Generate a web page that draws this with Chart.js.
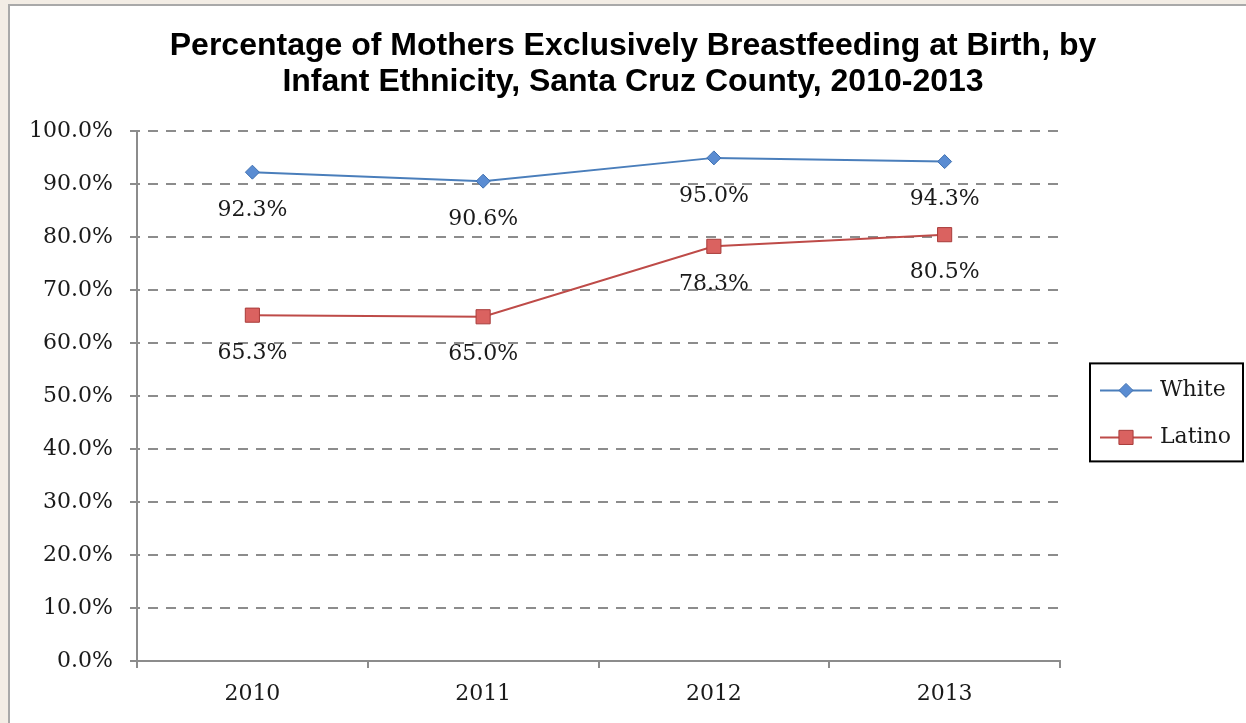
<!DOCTYPE html>
<html lang="en">
<head>
    <meta charset="UTF-8">
    <title>Exclusive Breastfeeding at Birth</title>
    <script src="https://cdn.jsdelivr.net/npm/chart.js"></script>
    <style>
        body { margin: 0; background: #f3ede5; width: 1246px; height: 723px; overflow: hidden; position: relative; }
        #frame { position: absolute; left: 8px; top: 4px; width: 1260px; height: 740px; background: #fff; border: 2px solid #a9a9a9; }
        #chart { position: absolute; left: 0; top: 0; }
    </style>
</head>
<body>
    <div id="frame"></div>
    <canvas id="chart" width="1246" height="723"></canvas>
    <script>
        const years = ['2010', '2011', '2012', '2013'];
        const white = [92.3, 90.6, 95.0, 94.3];
        const latino = [65.3, 65.0, 78.3, 80.5];
        const titleLines = ['Percentage of Mothers Exclusively Breastfeeding at Birth, by',
                            'Infant Ethnicity, Santa Cruz County, 2010-2013'];

        const serif = 'DejaVu Serif';
        const gridGray = '#8c8c8c';

        function drawMarker(ctx, style, x, y, r, fill, stroke) {
            ctx.save();
            ctx.fillStyle = fill;
            ctx.strokeStyle = stroke;
            ctx.lineWidth = 1;
            ctx.beginPath();
            if (style === 'rectRot') {
                ctx.moveTo(x - r, y); ctx.lineTo(x, y - r); ctx.lineTo(x + r, y); ctx.lineTo(x, y + r);
                ctx.closePath();
            } else {
                const s = r * Math.SQRT1_2;
                ctx.rect(x - s, y - s, 2 * s, 2 * s);
            }
            ctx.fill();
            ctx.stroke();
            ctx.restore();
        }

        // value labels under each point
        const valueLabels = {
            id: 'valueLabels',
            afterDatasetsDraw(chart) {
                const ctx = chart.ctx;
                ctx.save();
                ctx.font = '22px "' + serif + '"';
                ctx.fillStyle = '#1a1a1a';
                ctx.textAlign = 'center';
                ctx.textBaseline = 'middle';
                chart.data.datasets.forEach((ds, i) => {
                    chart.getDatasetMeta(i).data.forEach((pt, j) => {
                        ctx.fillText(ds.data[j].toFixed(1) + '%', pt.x, pt.y + 38);
                    });
                });
                ctx.restore();
            }
        };

        // boxed legend with line + marker
        const boxLegend = {
            id: 'boxLegend',
            afterDraw(chart) {
                const ctx = chart.ctx;
                const a = chart.chartArea;
                const left = a.right + 30, top = a.top + 232, w = 153, h = 98;
                ctx.save();
                ctx.strokeStyle = '#000';
                ctx.lineWidth = 2;
                ctx.strokeRect(left, top, w, h);
                ctx.font = '22px "' + serif + '"';
                ctx.textBaseline = 'middle';
                ctx.fillStyle = '#1a1a1a';
                chart.data.datasets.forEach((ds, i) => {
                    const y = top + 27 + i * 47;
                    ctx.strokeStyle = ds.borderColor;
                    ctx.lineWidth = 2;
                    ctx.beginPath();
                    ctx.moveTo(left + 10, y);
                    ctx.lineTo(left + 62, y);
                    ctx.stroke();
                    drawMarker(ctx, ds.pointStyle, left + 36, y, ds.pointRadius, ds.pointBackgroundColor, ds.pointBorderColor);
                    ctx.fillText(ds.label, left + 70, y);
                });
                ctx.restore();
            }
        };

        new Chart(document.getElementById('chart'), {
            type: 'line',
            data: {
                labels: years,
                datasets: [{
                    label: 'White',
                    data: white,
                    borderColor: '#4a7ebb',
                    borderWidth: 2,
                    pointStyle: 'rectRot',
                    pointRadius: 7,
                    pointBackgroundColor: '#5a8cd2',
                    pointBorderColor: '#3f70b0',
                    pointBorderWidth: 1,
                    tension: 0
                }, {
                    label: 'Latino',
                    data: latino,
                    borderColor: '#be4b48',
                    borderWidth: 2,
                    pointStyle: 'rect',
                    pointRadius: 10,
                    pointBackgroundColor: '#da6260',
                    pointBorderColor: '#a83c3a',
                    pointBorderWidth: 1,
                    tension: 0
                }]
            },
            options: {
                responsive: false,
                animation: false,
                layout: { padding: { left: 20, right: 0, top: 0, bottom: 0 } },
                plugins: {
                    legend: { display: false },
                    tooltip: { enabled: false },
                    title: {
                        display: true,
                        text: titleLines,
                        color: '#000',
                        font: { family: 'Liberation Sans', size: 32, weight: 'bold', lineHeight: 1.1 },
                        padding: { top: 29, bottom: 32 }
                    }
                },
                scales: {
                    x: {
                        offset: true,
                        grid: { offset: true, drawOnChartArea: false, tickLength: 7, color: gridGray, lineWidth: 2 },
                        border: { color: gridGray, width: 2 },
                        ticks: { padding: 13, color: '#1a1a1a', font: { family: serif, size: 22 } },
                        afterFit: s => { s.height = 62; }
                    },
                    y: {
                        min: 0,
                        max: 100,
                        ticks: {
                            stepSize: 10,
                            padding: 17,
                            color: '#1a1a1a',
                            font: { family: serif, size: 22 },
                            callback: v => v.toFixed(1) + '%'
                        },
                        grid: { color: gridGray, lineWidth: 2, tickLength: 7, tickColor: gridGray, tickWidth: 2 },
                        border: { color: gridGray, width: 2, dash: [10, 8], dashOffset: -10 },
                        afterFit: s => { s.width = 117; }
                    },
                    // empty axis that keeps room for the legend box
                    legendRoom: {
                        type: 'linear',
                        axis: 'y',
                        position: 'right',
                        grid: { display: false },
                        ticks: { display: false },
                        border: { display: false },
                        afterFit: s => { s.width = 186; }
                    }
                }
            },
            plugins: [valueLabels, boxLegend]
        });
    </script>
</body>
</html>
